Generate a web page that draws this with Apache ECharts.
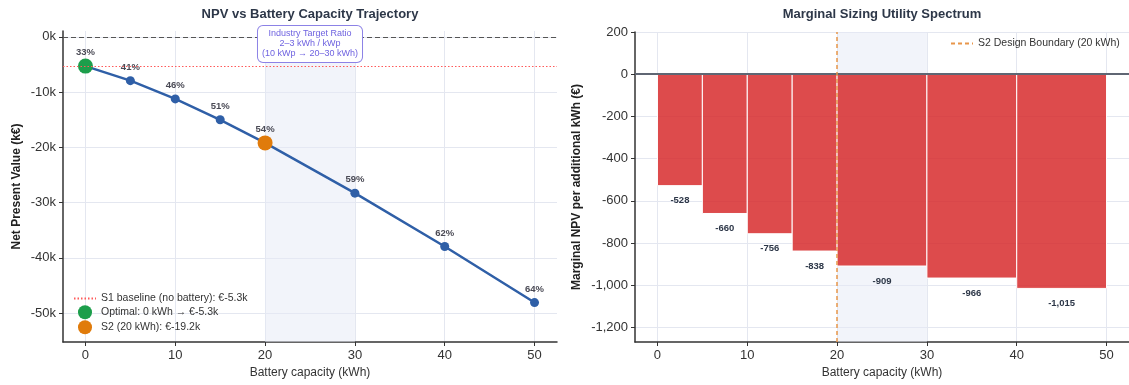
<!DOCTYPE html>
<html><head><meta charset="utf-8">
<script src="https://cdn.jsdelivr.net/npm/echarts@6/dist/echarts.min.js"></script>
<style>html,body{margin:0;padding:0;background:#fff}#c{width:1129px;height:385px}</style>
</head><body><div id="c"></div>
<script>
// ---- data ----
const capacities = [0, 5, 10, 15, 20, 30, 40, 50];
const npvK = [-5.3, -7.94, -11.24, -15.02, -19.21, -28.3, -37.96, -48.11];
const selfSufficiency = [33, 41, 46, 51, 54, 59, 62, 64];
const s1BaselineK = -5.3;
const optimalCapacity = 0;
const s2Capacity = 20;
const targetBand = [20, 30];
const segStart = [0, 5, 10, 15, 20, 30, 40];
const segEnd = [5, 10, 15, 20, 30, 40, 50];
const marginalNpv = [-528, -660, -756, -838, -909, -966, -1015];
const xTicks = [0, 10, 20, 30, 40, 50];
const leftYTicks = [-50, -40, -30, -20, -10, 0];
const rightYTicks = [-1200, -1000, -800, -600, -400, -200, 0, 200];

const FONT = 'Liberation Sans';
const optIdx = capacities.indexOf(optimalCapacity);
const s2Idx = capacities.indexOf(s2Capacity);
const nameS1 = 'S1 baseline (no battery): €' + s1BaselineK.toFixed(1) + 'k';
const nameOpt = 'Optimal: ' + optimalCapacity + ' kWh → €' + npvK[optIdx].toFixed(1) + 'k';
const nameS2 = 'S2 (' + s2Capacity + ' kWh): €' + npvK[s2Idx].toFixed(1) + 'k';
const nameBound = 'S2 Design Boundary (' + s2Capacity + ' kWh)';
const fmtComma = v => { const s = Math.abs(v).toLocaleString('en-US'); return (v < 0 ? '-' : '') + s; };
const BAND = 'rgba(230,233,246,0.5)';

const chart = echarts.init(document.getElementById('c'), null, {renderer: 'canvas'});

function xAxisCfg(gi) {
  return {
    gridIndex: gi, type: 'value', min: -2.5, max: 52.5,
    axisLine: {show: true, onZero: false, lineStyle: {color: '#333', width: 1.5}},
    axisTick: {show: true, customValues: xTicks, length: 4, lineStyle: {color: '#333', width: 1}},
    axisLabel: {customValues: xTicks, color: '#333', fontSize: 13, margin: 7, fontFamily: FONT},
    splitLine: {show: true, lineStyle: {color: '#e4e7f0', width: 1}},
    name: 'Battery capacity (kWh)', nameLocation: 'middle', nameGap: 23,
    nameTextStyle: {fontSize: 12, color: '#333', fontFamily: FONT}
  };
}

const option = {
  animation: false,
  backgroundColor: '#fff',
  textStyle: {fontFamily: FONT},
  graphic: [
    {type: 'text', x: 310, y: 14, style: {text: 'NPV vs Battery Capacity Trajectory', align: 'center', verticalAlign: 'middle', fontSize: 13, fontWeight: 'bold', fontFamily: FONT, fill: '#2d3748'}},
    {type: 'text', x: 882, y: 14, style: {text: 'Marginal Sizing Utility Spectrum', align: 'center', verticalAlign: 'middle', fontSize: 13, fontWeight: 'bold', fontFamily: FONT, fill: '#2d3748'}}
  ],
  grid: [
    {left: 63, top: 31, width: 494, height: 311},
    {left: 635, top: 32, width: 494, height: 310}
  ],
  xAxis: [xAxisCfg(0), xAxisCfg(1)],
  yAxis: [
    {
      gridIndex: 0, type: 'value', min: -55.25, max: 1.05,
      axisLine: {show: true, onZero: false, lineStyle: {color: '#333', width: 1.5}},
      axisTick: {show: true, customValues: leftYTicks, length: 4, lineStyle: {color: '#333'}},
      axisLabel: {customValues: leftYTicks, color: '#333', fontSize: 13, margin: 7, fontFamily: FONT, formatter: v => v + 'k'},
      splitLine: {show: true, lineStyle: {color: '#e4e7f0', width: 1}},
      name: 'Net Present Value (k€)', nameLocation: 'middle', nameGap: 40,
      nameTextStyle: {fontSize: 12, fontWeight: 'bold', color: '#222', fontFamily: FONT}
    },
    {
      gridIndex: 1, type: 'value', min: -1269, max: 200,
      axisLine: {show: true, onZero: false, lineStyle: {color: '#333', width: 1.5}},
      axisTick: {show: true, customValues: rightYTicks, length: 4, lineStyle: {color: '#333'}},
      axisLabel: {customValues: rightYTicks, color: '#333', fontSize: 13, margin: 7, fontFamily: FONT, formatter: fmtComma},
      splitLine: {show: true, lineStyle: {color: '#e4e7f0', width: 1}},
      name: 'Marginal NPV per additional kWh (€)', nameLocation: 'middle', nameGap: 52,
      nameTextStyle: {fontSize: 12, fontWeight: 'bold', color: '#222', fontFamily: FONT}
    }
  ],
  legend: [
    {
      data: [nameS1, nameOpt, nameS2], orient: 'vertical', left: 73, top: 293,
      itemWidth: 22, itemHeight: 14, itemGap: 1, padding: 0,
      textStyle: {fontSize: 10.5, color: '#333', fontFamily: FONT}
    },
    {
      data: [nameBound], left: 950, top: 38, itemWidth: 22, itemHeight: 14, padding: 0,
      textStyle: {fontSize: 10.5, color: '#333', fontFamily: FONT}
    }
  ],
  series: [
    {
      name: nameS1, type: 'line', xAxisIndex: 0, yAxisIndex: 0, data: [], symbol: 'none', z: 1,
      lineStyle: {color: '#ff5a5a', type: [1.5, 2], width: 1.2}, itemStyle: {color: 'rgba(0,0,0,0)'},
      markArea: {silent: true, itemStyle: {color: BAND}, data: [[{xAxis: targetBand[0]}, {xAxis: targetBand[1]}]]},
      markLine: {silent: true, symbol: 'none', label: {show: false},
        lineStyle: {color: '#ff5a5a', type: [1.5, 2], width: 1.2},
        data: [{yAxis: s1BaselineK}]}
    },
    {
      name: 'NPV', type: 'line', xAxisIndex: 0, yAxisIndex: 0, z: 3,
      data: capacities.map((c, i) => [c, npvK[i]]),
      symbol: 'circle', symbolSize: 9, showAllSymbol: true,
      lineStyle: {color: '#2f5fa7', width: 2.5}, itemStyle: {color: '#2f5fa7'},
      label: {show: true, position: 'top', distance: 4, fontSize: 9.5, fontWeight: 600, color: '#4a4a55', fontFamily: FONT,
        formatter: p => selfSufficiency[p.dataIndex] + '%'},
      markLine: {silent: true, symbol: 'none', label: {show: false},
        lineStyle: {color: '#555', type: [5, 3], width: 1}, data: [{yAxis: 0}]},
      markPoint: {
        silent: true, symbol: 'rect', symbolSize: [1, 1], itemStyle: {color: 'rgba(0,0,0,0)'},
        data: [{coord: [25, -1.3]}],
        label: {show: true, position: 'inside', formatter: 'Industry Target Ratio\n2–3 kWh / kWp\n(10 kWp → 20–30 kWh)',
          color: '#6f63e0', fontSize: 9, lineHeight: 10, align: 'center', fontFamily: FONT,
          backgroundColor: '#fff', borderColor: '#8c82e6', borderWidth: 1, borderRadius: 5, padding: [3, 4]}
      }
    },
    {
      name: nameOpt, type: 'scatter', xAxisIndex: 0, yAxisIndex: 0, z: 4,
      data: [[capacities[optIdx], npvK[optIdx]]], symbolSize: 15, itemStyle: {color: '#1c9e4b', opacity: 1}
    },
    {
      name: nameS2, type: 'scatter', xAxisIndex: 0, yAxisIndex: 0, z: 4,
      data: [[capacities[s2Idx], npvK[s2Idx]]], symbolSize: 15, itemStyle: {color: '#e07b0b', opacity: 1}
    },
    {
      name: nameBound, type: 'line', xAxisIndex: 1, yAxisIndex: 1, data: [], symbol: 'none', z: 1,
      lineStyle: {color: '#e8964a', type: [4, 3], width: 1.5}, itemStyle: {color: 'rgba(0,0,0,0)'},
      markArea: {silent: true, itemStyle: {color: BAND}, data: [[{xAxis: targetBand[0]}, {xAxis: targetBand[1]}]]},
      markLine: {silent: true, symbol: 'none', label: {show: false},
        data: [
          {yAxis: 0, lineStyle: {color: '#5f6673', type: 'solid', width: 1.8}},
          {xAxis: s2Capacity, lineStyle: {color: '#e8964a', type: [4, 3], width: 1.5}}
        ]}
    },
    {
      name: 'Marginal', type: 'custom', xAxisIndex: 1, yAxisIndex: 1, z: 3,
      data: segStart.map((s, i) => [s, segEnd[i], marginalNpv[i]]),
      encode: {x: [0, 1], y: 2},
      renderItem: function (params, api) {
        const p0 = api.coord([api.value(0), 0]);
        const p1 = api.coord([api.value(1), api.value(2)]);
        return {
          type: 'group',
          children: [
            {type: 'rect', shape: {x: p0[0], y: p0[1], width: p1[0] - p0[0], height: p1[1] - p0[1]},
              style: {fill: 'rgba(214,39,40,0.83)', stroke: '#fff', lineWidth: 1}},
            {type: 'text', x: (p0[0] + p1[0]) / 2, y: p1[1] + 15,
              style: {text: fmtComma(api.value(2)), align: 'center', verticalAlign: 'middle',
                fontSize: 9.5, fontWeight: 'bold', fontFamily: FONT, fill: '#2d3748'}}
          ]
        };
      }
    }
  ]
};
chart.setOption(option);
</script></body></html>
